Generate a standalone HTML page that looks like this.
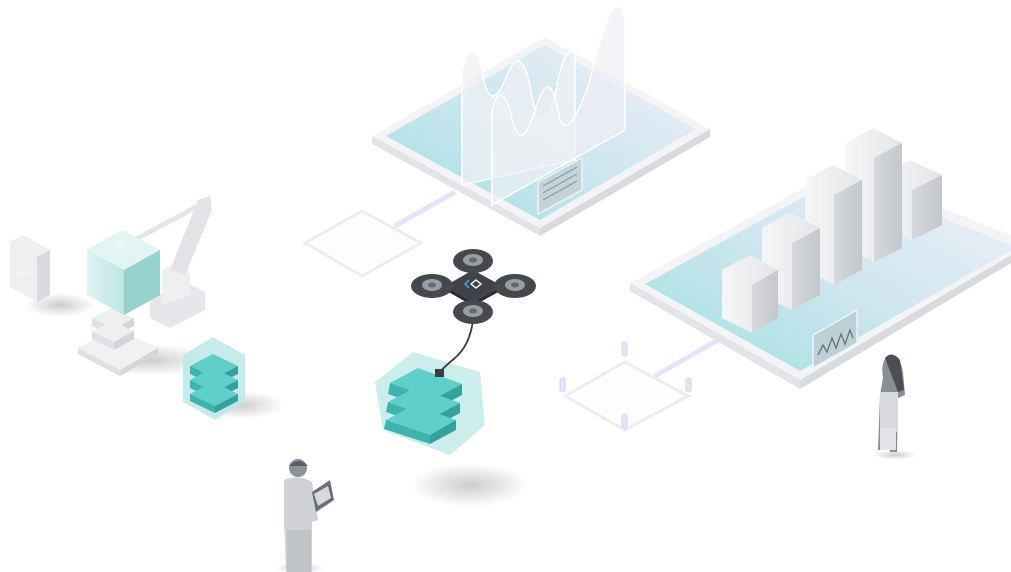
<!DOCTYPE html>
<html><head><meta charset="utf-8"><style>
html,body{margin:0;padding:0;background:#fff;width:1011px;height:572px;overflow:hidden}
svg{display:block}
</style></head><body>
<svg width="1011" height="572" viewBox="0 0 1011 572" xmlns="http://www.w3.org/2000/svg">
<defs>
<linearGradient id="glass" x1="0" y1="1" x2="1" y2="0">
<stop offset="0" stop-color="#9ee0df"/><stop offset="0.5" stop-color="#cfe6f0"/><stop offset="1" stop-color="#f1f1f9"/></linearGradient>
<linearGradient id="tealL" x1="0" y1="0" x2="1" y2="0"><stop offset="0" stop-color="#dff3f2"/><stop offset="1" stop-color="#9fd9d6"/></linearGradient>
<radialGradient id="sh"><stop offset="0" stop-color="#000" stop-opacity="0.2"/><stop offset="1" stop-color="#000" stop-opacity="0"/></radialGradient>
<linearGradient id="barL" x1="0" y1="0" x2="1" y2="0"><stop offset="0" stop-color="#f6f6f7"/><stop offset="1" stop-color="#e4e5e7"/></linearGradient>
<linearGradient id="barR" x1="0" y1="0" x2="1" y2="0"><stop offset="0" stop-color="#d6d8db"/><stop offset="1" stop-color="#c4c7cb"/></linearGradient>
</defs>

<ellipse cx="470" cy="485" rx="60" ry="22" fill="url(#sh)"/>
<ellipse cx="60" cy="305" rx="35" ry="12" fill="url(#sh)"/>
<ellipse cx="240" cy="405" rx="45" ry="14" fill="url(#sh)"/>
<ellipse cx="150" cy="360" rx="60" ry="16" fill="url(#sh)"/>

<line x1="395" y1="226" x2="455" y2="192" stroke="#e6e2f8" stroke-width="5"/>
<line x1="655" y1="376" x2="718" y2="340" stroke="#e6e2f8" stroke-width="5"/>

<polygon points="305,243 362,211 421,243 362,276" fill="#fdfdfd" stroke="#ededf0" stroke-width="3"/>
<polygon points="565,396 625,362 688,396 625,430" fill="#fdfdfd" stroke="#ededf0" stroke-width="3"/>
<g fill="#e8e4f8" stroke="#d6d0f0" stroke-width="1">
<rect x="622" y="342" width="5" height="14" rx="2.5"/>
<rect x="560" y="378" width="5" height="14" rx="2.5"/>
<rect x="686" y="378" width="5" height="14" rx="2.5"/>
<rect x="622" y="414" width="5" height="14" rx="2.5"/>
</g>

<!-- top platform -->
<polygon points="372,136 545,37 710,129 540,228" fill="#f4f4f6"/>
<polygon points="372,136 540,228 540,236 372,144" fill="#e3e4e7"/>
<polygon points="540,228 710,129 710,137 540,236" fill="#d8dadd"/>
<polygon points="386,136 545,45 696,129 540,220" fill="url(#glass)"/>
<path d="M462,185 L462,70 Q470,40 480,60 Q488,120 505,80 Q520,40 530,85 Q540,150 555,95 Q565,40 575,55 L575,160 Z" fill="#eef0f3" fill-opacity="0.75" stroke="#fff" stroke-width="1.5"/>
<path d="M492,205 L492,110 Q500,80 510,110 Q520,160 535,110 Q550,60 560,120 Q570,140 590,80 Q605,20 612,10 Q622,0 625,20 L625,130 Z" fill="#eef0f3" fill-opacity="0.7" stroke="#fff" stroke-width="1.5"/>
<polygon points="538,182 582,158 582,190 538,214" fill="#c3d3d8" stroke="#eef3f5" stroke-width="1.5"/>
<g stroke="#8a9aa0" stroke-width="1.2">
<line x1="543" y1="186" x2="577" y2="167"/><line x1="543" y1="193" x2="577" y2="174"/><line x1="543" y1="200" x2="577" y2="181"/>
</g>

<!-- right platform -->
<polygon points="630,283 840,168 1011,235 1011,255 800,380" fill="#f4f4f6"/>
<polygon points="630,283 800,380 800,389 630,291" fill="#e3e4e7"/>
<polygon points="800,380 1011,255 1011,263 800,389" fill="#d8dadd"/>
<polygon points="645,284 840,177 1011,245 1011,250 800,371" fill="url(#glass)"/>
<g>
<polygon points="880,175 910,160 942,175 942,225 912,240 880,225" fill="url(#barL)"/>
<polygon points="912,190 942,175 942,225 912,240" fill="url(#barR)"/>
<polygon points="845,143 873,128 902,143 902,248 874,262 845,248" fill="url(#barL)"/>
<polygon points="874,158 902,143 902,248 874,262" fill="url(#barR)"/>
<polygon points="805,180 833,165 862,180 862,270 834,285 805,270" fill="url(#barL)"/>
<polygon points="834,195 862,180 862,270 834,285" fill="url(#barR)"/>
<polygon points="762,228 790,212 820,228 820,295 792,310 762,295" fill="url(#barL)"/>
<polygon points="792,243 820,228 820,295 792,310" fill="url(#barR)"/>
<polygon points="722,270 750,255 778,270 778,318 752,333 722,318" fill="url(#barL)"/>
<polygon points="752,285 778,270 778,318 752,333" fill="url(#barR)"/>
</g>
<polygon points="813,335 857,310 857,343 813,368" fill="#bcd0d6" stroke="#eef3f5" stroke-width="1.5"/>
<polyline points="818,355 823,345 827,352 832,338 836,348 841,334 845,344 850,330 853,338" fill="none" stroke="#6a7478" stroke-width="1.3"/>

<!-- woman -->
<ellipse cx="895" cy="455" rx="22" ry="5" fill="url(#sh)"/>
<path d="M883,378 Q880,360 890,355 Q900,355 903,372 L905,395 L898,398 L897,452 L890,452 L888,420 L884,450 L878,450 L880,395 Z" fill="#8a8d92"/>
<rect x="880" y="392" width="18" height="40" fill="#d7d9dc"/>
<rect x="880" y="428" width="16" height="22" fill="#e2e3e6"/>
<path d="M885,358 Q892,350 900,360 L904,390 L898,392 Z" fill="#4b4f55"/>

<!-- man -->
<ellipse cx="300" cy="568" rx="25" ry="5" fill="url(#sh)"/>
<circle cx="298" cy="468" r="9" fill="#8e9196"/>
<path d="M289,466 Q298,456 308,466 Z" fill="#5a5e64"/>
<path d="M284,480 Q298,474 312,482 L318,520 L312,522 L312,572 L286,572 L284,520 Z" fill="#cfd1d5"/>
<rect x="287" y="530" width="24" height="42" fill="#bfc2c6"/>
<polygon points="312,492 330,480 334,500 316,512" fill="#6b6f75"/>
<polygon points="314,494 328,486 331,498 318,506" fill="#d7dadd"/>

<!-- code box -->
<polygon points="10,242 23,235 50,250 50,295 37,302 10,287" fill="#eeeff1"/>
<polygon points="37,257 50,250 50,295 37,302" fill="#d8dadd"/>
<text x="16" y="276" font-family="Liberation Sans, sans-serif" font-size="9" fill="#fff">&lt;/&gt;</text>

<!-- robot arm -->
<polygon points="150,300 185,282 205,292 205,310 170,328 150,318" fill="#e6e7ea"/>
<polygon points="162,305 162,270 185,258 190,275 190,295" fill="#eeeff1"/>
<path d="M170,270 L198,200 L210,196 L212,210 L185,275 Z" fill="#e2e3e6"/>
<line x1="125" y1="245" x2="200" y2="205" stroke="#e4e5e8" stroke-width="5"/>

<!-- stack under teal cube -->
<polygon points="78,348 115,328 158,348 120,370" fill="#f0f1f3"/>
<polygon points="78,348 120,370 120,376 78,354" fill="#dfe0e3"/>
<polygon points="120,370 158,348 158,354 120,376" fill="#d4d6d9"/>
<g>
<polygon points="92,318 112,308 134,318 114,329" fill="#eeeff1"/><polygon points="92,318 114,329 114,337 92,326" fill="#e0e1e4"/><polygon points="114,329 134,318 134,326 114,337" fill="#d2d4d7"/>
<polygon points="92,331 112,321 134,331 114,342" fill="#eeeff1"/><polygon points="92,331 114,342 114,350 92,339" fill="#e0e1e4"/><polygon points="114,342 134,331 134,339 114,350" fill="#d2d4d7"/>
</g>
<!-- teal cube -->
<polygon points="87,250 122,230 160,250 160,295 124,315 87,295" fill="url(#tealL)"/>
<polygon points="87,250 122,230 160,250 124,270" fill="#e2f4f3"/>
<polygon points="124,270 160,250 160,295 124,315" fill="#98d2cf"/>
<polygon points="114,245 120,242 126,245 120,248" fill="#f4f5f6"/>

<!-- small teal stack cube -->
<polygon points="183,355 213,337 245,355 245,402 215,420 183,402" fill="#bde8e6" opacity="0.85"/>
<g>
<polygon points="190,366 213,354 238,366 215,378" fill="#5fcfca"/><polygon points="190,366 215,378 215,386 190,374" fill="#3fb3ae"/><polygon points="215,378 238,366 238,374 215,386" fill="#35a19c"/>
<polygon points="190,380 213,368 238,380 215,392" fill="#5fcfca"/><polygon points="190,380 215,392 215,400 190,388" fill="#3fb3ae"/><polygon points="215,392 238,380 238,388 215,400" fill="#35a19c"/>
<polygon points="190,394 213,382 238,394 215,406" fill="#5fcfca"/><polygon points="190,394 215,406 215,413 190,401" fill="#3fb3ae"/><polygon points="215,406 238,394 238,401 215,413" fill="#35a19c"/>
</g>

<!-- big teal cube -->
<polygon points="375,382 413,352 480,372 485,425 450,455 383,430" fill="#c2ebe9" opacity="0.85"/>
<g>
<polygon points="390,383 418,368 462,384 434,399" fill="#5fcfca"/><polygon points="390,383 434,399 434,410 388,394" fill="#3fb3ae"/><polygon points="434,399 462,384 462,395 434,410" fill="#35a19c"/>
<polygon points="388,402 416,387 460,403 432,418" fill="#5fcfca"/><polygon points="388,402 432,418 432,428 386,412" fill="#3fb3ae"/><polygon points="432,418 460,403 460,413 432,428" fill="#35a19c"/>
<polygon points="386,420 414,405 456,420 430,435" fill="#5fcfca"/><polygon points="386,420 430,435 430,444 384,429" fill="#3fb3ae"/><polygon points="430,435 456,420 456,430 430,444" fill="#35a19c"/>
</g>
<path d="M473,320 Q470,345 455,358 Q445,366 440,372" fill="none" stroke="#3a3d42" stroke-width="1.8"/>
<rect x="435" y="369" width="9" height="8" fill="#3a3d42"/>

<!-- drone -->
<polygon points="445,286 473,270 502,286 473,302" fill="#3f4247"/>
<polygon points="445,286 473,302 473,306 445,290" fill="#2b2d31"/>
<polygon points="473,302 502,286 502,290 473,306" fill="#2b2d31"/>
<g>
<ellipse cx="473" cy="261" rx="20" ry="12" fill="#45484d"/><ellipse cx="473" cy="260" rx="10" ry="6" fill="#9a9da1"/><ellipse cx="473" cy="260" rx="4" ry="2.5" fill="#666"/>
<ellipse cx="432" cy="286" rx="21" ry="12" fill="#45484d"/><ellipse cx="432" cy="285" rx="10" ry="6" fill="#9a9da1"/><ellipse cx="432" cy="285" rx="4" ry="2.5" fill="#666"/>
<ellipse cx="515" cy="286" rx="21" ry="12" fill="#45484d"/><ellipse cx="515" cy="285" rx="10" ry="6" fill="#9a9da1"/><ellipse cx="515" cy="285" rx="4" ry="2.5" fill="#666"/>
<ellipse cx="473" cy="312" rx="20" ry="12" fill="#45484d"/><ellipse cx="473" cy="311" rx="10" ry="6" fill="#9a9da1"/><ellipse cx="473" cy="311" rx="4" ry="2.5" fill="#666"/>
</g>
<path d="M469,280 L465,284 L469,288" fill="none" stroke="#4aa8d8" stroke-width="1.5"/>
<polygon points="476,280 481,284 476,288 471,284" fill="none" stroke="#fff" stroke-width="1.3"/>
</svg>
</body></html>
